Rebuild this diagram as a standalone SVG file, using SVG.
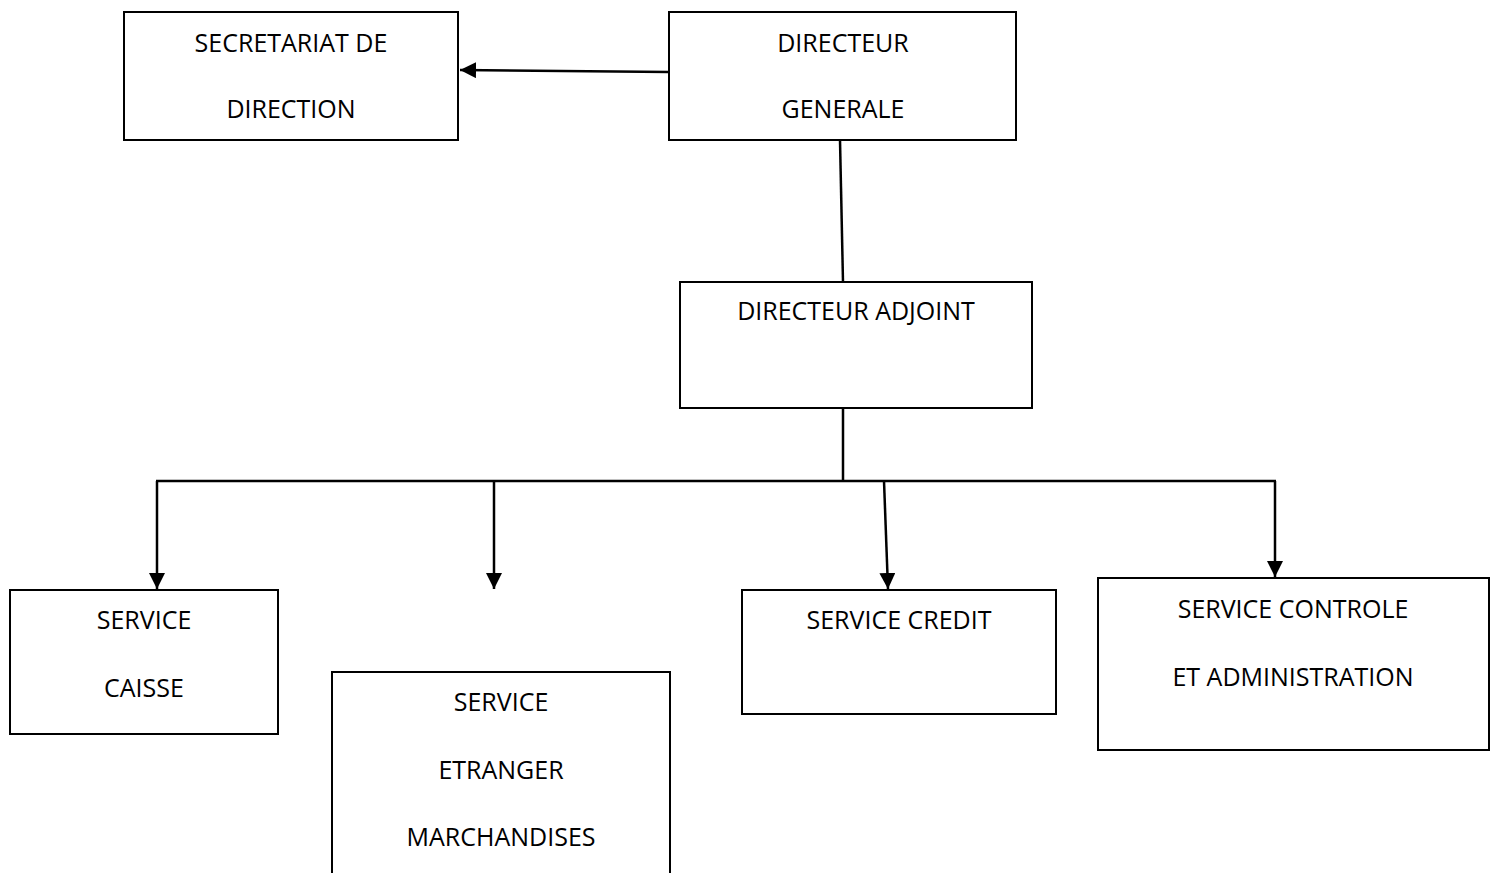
<svg xmlns="http://www.w3.org/2000/svg" width="1494" height="873" viewBox="0 0 1494 873">
  <style>
    .box { fill: #ffffff; stroke: #000000; stroke-width: 2; }
    .lbl { font-family: "Open Sans", "Liberation Sans", sans-serif; font-size: 25px; fill: #000000; text-anchor: middle; }
    .link { fill: none; stroke: #000000; stroke-width: 2.5; }
  </style>
  <defs>
    <marker id="head" viewBox="0 0 16 16" refX="16" refY="8" markerWidth="16" markerHeight="16" markerUnits="userSpaceOnUse" orient="auto">
      <path d="M0,0 L16,8 L0,16 Z" fill="#000000"/>
    </marker>
  </defs>

  <rect width="1494" height="873" fill="#ffffff"/>

  <g id="connectors">
    <line class="link" x1="669" y1="72" x2="460" y2="70" marker-end="url(#head)"/>
    <line class="link" x1="840" y1="140" x2="843" y2="282"/>
    <line class="link" x1="843" y1="408" x2="843" y2="480"/>
    <line class="link" x1="156" y1="481" x2="1276" y2="481"/>
    <line class="link" x1="157" y1="481" x2="157" y2="589" marker-end="url(#head)"/>
    <line class="link" x1="494" y1="481" x2="494" y2="589" marker-end="url(#head)"/>
    <line class="link" x1="884" y1="481" x2="888" y2="589" marker-end="url(#head)"/>
    <line class="link" x1="1275" y1="481" x2="1275" y2="577" marker-end="url(#head)"/>
  </g>

  <g id="secretariat">
    <rect class="box" x="124" y="12" width="334" height="128"/>
    <text class="lbl" x="291" y="52">SECRETARIAT DE</text>
    <text class="lbl" x="291" y="118">DIRECTION</text>
  </g>

  <g id="directeur-generale">
    <rect class="box" x="669" y="12" width="347" height="128"/>
    <text class="lbl" x="843" y="52">DIRECTEUR</text>
    <text class="lbl" x="843" y="118">GENERALE</text>
  </g>

  <g id="directeur-adjoint">
    <rect class="box" x="680" y="282" width="352" height="126"/>
    <text class="lbl" x="856" y="320">DIRECTEUR ADJOINT</text>
  </g>

  <g id="service-caisse">
    <rect class="box" x="10" y="590" width="268" height="144"/>
    <text class="lbl" x="144" y="629">SERVICE</text>
    <text class="lbl" x="144" y="697">CAISSE</text>
  </g>

  <g id="service-etranger">
    <rect class="box" x="332" y="672" width="338" height="215"/>
    <text class="lbl" x="501" y="711">SERVICE</text>
    <text class="lbl" x="501" y="779">ETRANGER</text>
    <text class="lbl" x="501" y="846">MARCHANDISES</text>
  </g>

  <g id="service-credit">
    <rect class="box" x="742" y="590" width="314" height="124"/>
    <text class="lbl" x="899" y="629">SERVICE CREDIT</text>
  </g>

  <g id="service-controle">
    <rect class="box" x="1098" y="578" width="391" height="172"/>
    <text class="lbl" x="1293" y="618">SERVICE CONTROLE</text>
    <text class="lbl" x="1293" y="686">ET ADMINISTRATION</text>
  </g>
</svg>
